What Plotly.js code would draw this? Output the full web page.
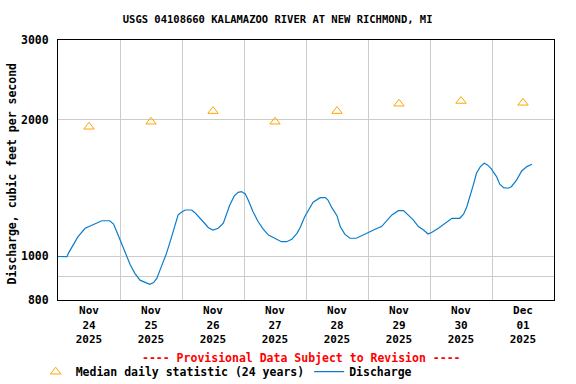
<!DOCTYPE html>
<html>
<head>
<meta charset="utf-8">
<script src="https://cdn.plot.ly/plotly-3.0.1.min.js"></script>
<style>html,body{margin:0;padding:0;background:#fff;}#chart{width:576px;height:384px;}</style>
</head>
<body>
<div id="chart"></div>
<script>
// Median daily statistic (24 years), plotted at noon of each day
const medianDates = ['2025-11-24 12:00','2025-11-25 12:00','2025-11-26 12:00','2025-11-27 12:00',
                     '2025-11-28 12:00','2025-11-29 12:00','2025-11-30 12:00','2025-12-01 12:00'];
const medianValues = [1930, 1980, 2090, 1980, 2090, 2170, 2200, 2180];

// Discharge (cfs)
const dischargeDates = [
 '2025-11-24 00:00','2025-11-24 03:30','2025-11-24 04:00','2025-11-24 05:45','2025-11-24 07:45','2025-11-24 10:30',
 '2025-11-24 12:30','2025-11-24 14:15','2025-11-24 17:00','2025-11-24 20:00','2025-11-24 21:30','2025-11-24 22:45',
 '2025-11-25 00:00','2025-11-25 01:15','2025-11-25 02:30','2025-11-25 04:00','2025-11-25 05:45','2025-11-25 07:45',
 '2025-11-25 09:45','2025-11-25 11:30','2025-11-25 13:00','2025-11-25 14:15','2025-11-25 16:00','2025-11-25 18:00',
 '2025-11-25 20:00','2025-11-25 21:30','2025-11-25 22:30','2025-11-25 23:45','2025-11-26 01:15','2025-11-26 03:45',
 '2025-11-26 05:00','2025-11-26 07:00','2025-11-26 09:00','2025-11-26 10:15','2025-11-26 12:00','2025-11-26 14:00',
 '2025-11-26 16:00','2025-11-26 17:15','2025-11-26 18:30','2025-11-26 20:15','2025-11-26 21:45','2025-11-26 23:00',
 '2025-11-27 00:30','2025-11-27 01:45','2025-11-27 03:30','2025-11-27 05:30','2025-11-27 07:30','2025-11-27 09:30',
 '2025-11-27 12:00','2025-11-27 14:30','2025-11-27 16:30','2025-11-27 18:30','2025-11-27 20:30','2025-11-27 21:45',
 '2025-11-27 23:30','2025-11-28 01:00','2025-11-28 02:45','2025-11-28 05:30','2025-11-28 07:30','2025-11-28 08:30',
 '2025-11-28 10:00','2025-11-28 12:00','2025-11-28 13:15','2025-11-28 15:00','2025-11-28 17:00','2025-11-28 19:30',
 '2025-11-28 21:30','2025-11-29 00:00','2025-11-29 02:45','2025-11-29 05:15','2025-11-29 07:15','2025-11-29 09:15',
 '2025-11-29 11:45','2025-11-29 13:45','2025-11-29 15:30','2025-11-29 17:30','2025-11-29 19:30','2025-11-29 21:30',
 '2025-11-29 23:15','2025-11-30 00:45','2025-11-30 03:15','2025-11-30 05:45','2025-11-30 08:30','2025-11-30 11:30',
 '2025-11-30 13:00','2025-11-30 14:15','2025-11-30 15:30','2025-11-30 16:45','2025-11-30 18:00','2025-11-30 19:30',
 '2025-11-30 21:00','2025-11-30 22:15','2025-11-30 23:45','2025-12-01 01:45','2025-12-01 03:00','2025-12-01 04:30',
 '2025-12-01 06:15','2025-12-01 07:30','2025-12-01 09:30','2025-12-01 11:30','2025-12-01 13:30','2025-12-01 15:30'
];
const dischargeValues = [
 998, 997, 1014, 1053, 1104, 1152,
 1166, 1182, 1197, 1197, 1177, 1132,
 1085, 1040, 997, 956, 916, 885,
 875, 866, 874, 893, 948, 1014,
 1104, 1182, 1233, 1250, 1264, 1264,
 1247, 1212, 1177, 1155, 1142, 1152,
 1182, 1233, 1297, 1358, 1383, 1388,
 1371, 1325, 1253, 1191, 1146, 1113,
 1095, 1076, 1076, 1089, 1123, 1157,
 1222, 1264, 1315, 1346, 1346, 1330,
 1279, 1228, 1162, 1118, 1095, 1095,
 1110, 1127, 1146, 1162, 1196, 1233,
 1260, 1260, 1233, 1202, 1162, 1142,
 1119, 1129, 1152, 1182, 1212, 1212,
 1237, 1285, 1353, 1435, 1524, 1576,
 1603, 1590, 1558, 1498, 1441, 1416,
 1412, 1423, 1472, 1542, 1576, 1595
];

// Axis ticks
const xTickVals = ['2025-11-24 12:00','2025-11-25 12:00','2025-11-26 12:00','2025-11-27 12:00',
                   '2025-11-28 12:00','2025-11-29 12:00','2025-11-30 12:00','2025-12-01 12:00'];
const xTickText = ['Nov<br>24<br>2025','Nov<br>25<br>2025','Nov<br>26<br>2025','Nov<br>27<br>2025',
                   'Nov<br>28<br>2025','Nov<br>29<br>2025','Nov<br>30<br>2025','Dec<br>01<br>2025'];
const yTickVals = [800, 900, 1000, 2000, 3000];
const yTickText = ['800', '', '1000', '2000', '3000'];

const FONT = 'DejaVu Sans Mono, Liberation Mono, monospace';

const traces = [
  {
    x: medianDates, y: medianValues, type: 'scatter', mode: 'markers',
    name: 'Median daily statistic (24 years)',
    marker: {symbol: 'triangle-up-open', size: 9, color: '#ffa500', line: {width: 1, color: '#ffa500'}},
    hoverinfo: 'skip'
  },
  {
    x: dischargeDates, y: dischargeValues, type: 'scatter', mode: 'lines',
    name: 'Discharge',
    line: {color: '#0a7ccc', width: 1.2},
    hoverinfo: 'skip'
  }
];

const layout = {
  width: 576, height: 384,
  margin: {l: 58, r: 22, t: 40, b: 84, autoexpand: false},
  paper_bgcolor: '#ffffff', plot_bgcolor: '#ffffff',
  font: {family: FONT, size: 11.5, color: '#000', weight: 'bold'},
  title: {
    text: 'USGS 04108660 KALAMAZOO RIVER AT NEW RICHMOND, MI',
    font: {family: FONT, size: 10.5, color: '#000', weight: 'bold'},
    xref: 'container', x: 0.482, xanchor: 'center',
    yref: 'container', y: 1 - 19/384, yanchor: 'middle'
  },
  xaxis: {
    type: 'date', automargin: false,
    range: ['2025-11-24 00:00', '2025-12-02 00:00'],
    tickmode: 'array', tickvals: xTickVals, ticktext: xTickText,
    ticks: '', showgrid: false, zeroline: false,
    tickfont: {family: FONT, size: 11, color: '#000', weight: 'bold'},
    showline: true, linecolor: '#000', linewidth: 1, mirror: true,
    minor: {tick0: '2025-11-24 00:00', dtick: 86400000, showgrid: true, gridcolor: '#cccccc', gridwidth: 1, ticks: ''}
  },
  yaxis: {
    type: 'log', automargin: false,
    range: [Math.log10(800), Math.log10(3000)],
    tickmode: 'array', tickvals: yTickVals, ticktext: yTickText,
    ticks: '', ticklabelstandoff: 6,
    showgrid: true, gridcolor: '#cccccc', gridwidth: 1, zeroline: false,
    tickfont: {family: FONT, size: 11.5, color: '#000', weight: 'bold'},
    showline: true, linecolor: '#000', linewidth: 1, mirror: true
  },
  showlegend: true,
  legend: {
    orientation: 'h', x: -0.045, xanchor: 'left', y: -0.22, yanchor: 'top',
    font: {family: FONT, size: 11.5, color: '#000', weight: 'bold'},
    bgcolor: 'rgba(0,0,0,0)', itemwidth: 30, tracegroupgap: 0
  },
  annotations: [
    {
      text: '---- Provisional Data Subject to Revision ----',
      xref: 'paper', yref: 'paper', x: 0.491, y: -0.223, xanchor: 'center', yanchor: 'middle',
      showarrow: false,
      font: {family: FONT, size: 11.5, color: '#ff0000', weight: 'bold'}
    },
    {
      text: 'Discharge, cubic feet per second',
      xref: 'paper', yref: 'paper', x: -0.0935, y: 0.485, xanchor: 'center', yanchor: 'middle',
      textangle: -90, showarrow: false,
      font: {family: FONT, size: 11.5, color: '#000', weight: 'bold'}
    }
  ]
};

Plotly.newPlot('chart', traces, layout, {staticPlot: true, displayModeBar: false});
</script>
</body>
</html>
